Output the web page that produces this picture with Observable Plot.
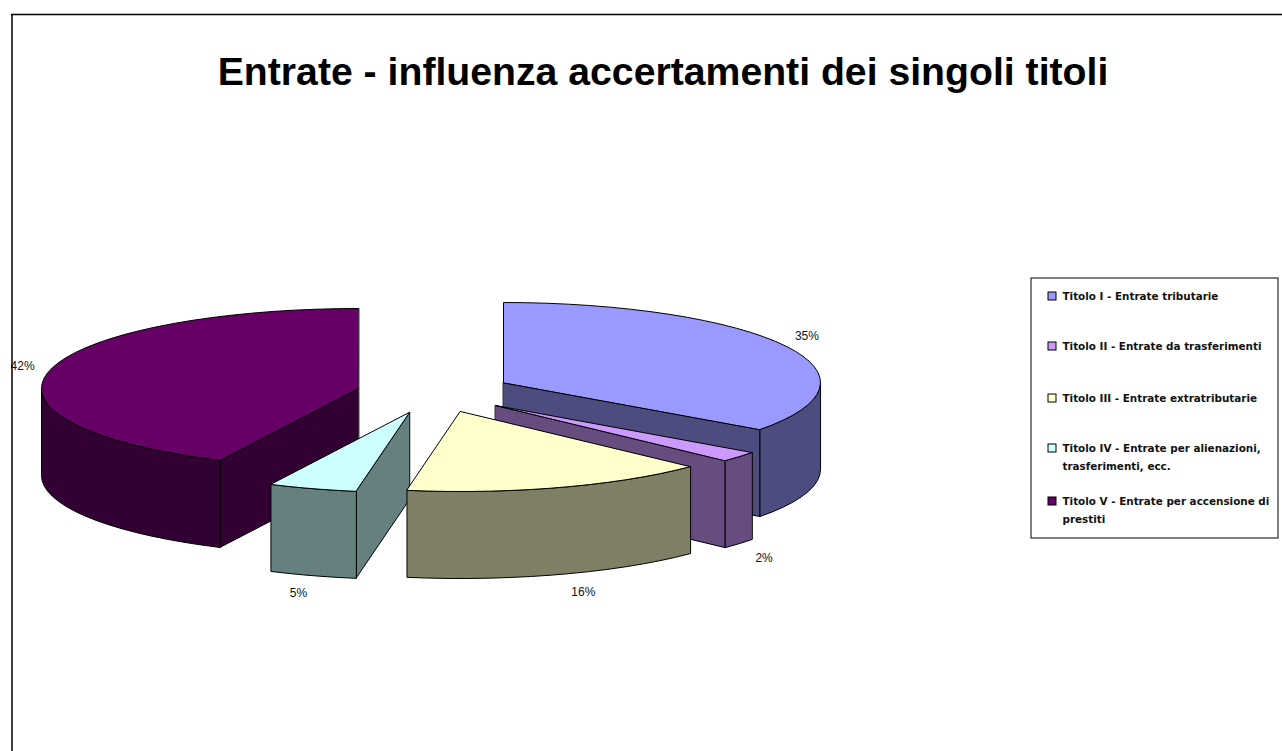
<!DOCTYPE html>
<html><head><meta charset="utf-8">
<style>html,body{margin:0;padding:0;background:#fff;overflow:hidden}svg{display:block}</style>
<script src="https://cdn.jsdelivr.net/npm/d3@7"></script>
<script src="https://cdn.jsdelivr.net/npm/@observablehq/plot@0.6"></script>
</head><body><div id="chart"></div>
<script>
const chartTitle = "Entrate - influenza accertamenti dei singoli titoli";
const categories = [
  "Titolo I - Entrate tributarie",
  "Titolo II - Entrate da trasferimenti",
  "Titolo III - Entrate extratributarie",
  "Titolo IV - Entrate per alienazioni,\ntrasferimenti, ecc.",
  "Titolo V - Entrate per accensione di\nprestiti"
];
const shares = [35.0, 2.1, 15.6, 4.5, 42.8];
const percentLabels = ["35%", "2%", "16%", "5%", "42%"];
const topColors = ["#9999FF", "#CC99FF", "#FFFFCC", "#CCFFFF", "#660066"];
const sideColors = ["#4C4C7F", "#664C7F", "#7F7F66", "#667F7F", "#330033"];

// layout of the exploded 3D pie (pixels)
const W = 1282, H = 751;
const rx = 317, ry = 80, depth = 87;
const centers = [[503, 382], [495, 405], [460, 411], [409, 412], [358, 388]];
const labelOffsets = [[21, -10], [25, 14], [23, 18], [-14, 17], [-27, -4]];
const paintOrder = [4, 0, 1, 3, 2];
const legendY = [296, 346, 398, 448, 501];
const legendLine = 18.5;

const total = d3.sum(shares);
const cum = d3.cumsum(shares);
const angle = (i) => (i < 0 ? 0 : cum[i] / total * 360);
const pt = (c, a, z = 0) => {
  const r = a * Math.PI / 180;
  return {x: c[0] + rx * Math.sin(r), y: c[1] - ry * Math.cos(r) + z};
};
const arc = (c, a0, a1, z = 0) => {
  const n = Math.max(2, Math.ceil((a1 - a0) / 4));
  return d3.range(n + 1).map((k) => pt(c, a0 + (a1 - a0) * k / n, z));
};

const faces = [];
let faceId = 0;
const addFace = (pts, fill) => {
  const id = faceId++;
  pts.forEach((p) => faces.push({...p, id, fill}));
};
for (const i of paintOrder) {
  const c = centers[i], a0 = angle(i - 1), a1 = angle(i);
  const apex = {x: c[0], y: c[1]}, apexLow = {x: c[0], y: c[1] + depth};
  // radial walls facing the viewer
  if (a0 > 180) addFace([apex, pt(c, a0), pt(c, a0, depth), apexLow], sideColors[i]);
  if (a1 < 180) addFace([apex, pt(c, a1), pt(c, a1, depth), apexLow], sideColors[i]);
  // outer wall: front half of the rim only
  const b0 = Math.max(a0, 90), b1 = Math.min(a1, 270);
  if (b1 > b0) addFace([...arc(c, b0, b1), ...arc(c, b0, b1, depth).reverse()], sideColors[i]);
  // top face
  addFace([apex, ...arc(c, a0, a1)], topColors[i]);
}

const pctData = percentLabels.map((label, i) => {
  const mid = (angle(i - 1) + angle(i)) / 2;
  const front = mid > 90 && mid < 270;
  const p = pt(centers[i], mid, front ? depth : 0);
  return {label, x: p.x + labelOffsets[i][0], y: p.y + labelOffsets[i][1]};
});

const legendRows = categories.map((label, i) => ({label, y: legendY[i], fill: topColors[i]}));

const plot = Plot.plot({
  width: W, height: H,
  margin: 0,
  x: {domain: [0, W], range: [0, W], axis: null},
  y: {domain: [0, H], range: [0, H], axis: null},
  color: {type: "identity"},
  style: {background: "#fff"},
  marks: [
    Plot.text([chartTitle], {
      x: 662.5, y: 72, text: (d) => d, fontSize: 39.2, fontWeight: 700,
      fontFamily: "Liberation Sans", fill: "#000"
    }),
    Plot.line(faces, {
      x: "x", y: "y", z: "id", fill: "fill", stroke: "#000", strokeWidth: 1,
      curve: "linear-closed", strokeLinejoin: "miter"
    }),
    Plot.text(pctData, {
      x: "x", y: "y", text: "label", fontSize: 12,
      fontFamily: "Liberation Sans", fill: "#111"
    }),
    // outer frame of the picture, clipping what runs past it
    Plot.rect([0], {x1: 0, x2: 11, y1: 0, y2: H, fill: "#fff"}),
    Plot.ruleY([0], {y: 14, x1: 11, x2: W, stroke: "#000", strokeWidth: 1.5}),
    Plot.ruleX([0], {x: 11.5, y1: 14, y2: H, stroke: "#000", strokeWidth: 1.5}),
    // legend
    Plot.rect([0], {x1: 1031, x2: 1278, y1: 278, y2: 538, fill: "#fff", stroke: "#000", strokeWidth: 1}),
    Plot.rect(legendRows, {
      x1: 1048, x2: 1056, y1: (d) => d.y - 4, y2: (d) => d.y + 4,
      fill: "fill", stroke: "#000", strokeWidth: 1
    }),
    Plot.text(legendRows, {
      x: 1062, y: "y", text: "label", textAnchor: "start", lineAnchor: "top",
      dy: -10, fontSize: 10.4, lineHeight: legendLine / 10.4, fontWeight: 700,
      fontFamily: "DejaVu Sans", fill: "#111"
    })
  ]
});
document.getElementById("chart").append(plot);
</script></body></html>
